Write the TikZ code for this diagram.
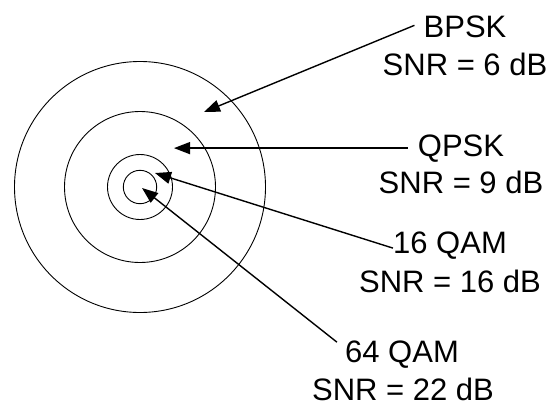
\documentclass[tikz,border=0pt]{standalone}
\usepackage{fontspec}
\setmainfont{Liberation Sans}
\usetikzlibrary{arrows.meta}

\tikzset{
  ring/.style={line width=0.9pt},
  arr/.style={line width=1.4pt,-{Triangle[length=16pt,width=12pt]}},
  lbl/.style={inner sep=0pt,anchor=base,font=\fontsize{31}{37.5}\selectfont}
}

\begin{document}
\begin{tikzpicture}[x=1pt,y=-1pt]
   \useasboundingbox (0,0) rectangle (549,408);
   % rings
   \coordinate (c) at (140,187);
   \draw[ring] (c) circle(125.5);
   \draw[ring] (c) circle(75.5);
   \draw[ring] (c) circle(32.5);
   \draw[ring] (c) circle(16.7);
   % arrow tips
   \coordinate (tipbpsk)  at (204,112);
   \coordinate (tipqpsk)  at (174,145);
   \coordinate (tipqam16) at (155,173);
   \coordinate (tipqam64) at (142,188);
   % labels
   \node[lbl] (bpsk)     at (465,37)  {BPSK};
   \node[lbl] (bpsksnr)  at (465,75)  {SNR = 6 dB};
   \node[lbl] (qpsk)     at (461,156) {QPSK};
   \node[lbl] (qpsksnr)  at (461,193) {SNR = 9 dB};
   \node[lbl] (qam16)    at (450,253) {16 QAM};
   \node[lbl] (qam16snr) at (450,292) {SNR = 16 dB};
   \node[lbl] (qam64)    at (402,362) {64 QAM};
   \node[lbl] (qam64snr) at (403,400) {SNR = 22 dB};
   % arrows
   \draw[arr] ([xshift=-9,yshift=1]bpsk.west) -- (tipbpsk);
   \draw[arr] ([xshift=-10]qpsk.west) -- (tipqpsk |- qpsk.west);
   \draw[arr] ([xshift=0,yshift=-3]qam16.west) -- (tipqam16);
   \draw[arr] ([xshift=-8,yshift=-2]qam64.north west) -- (tipqam64);
\end{tikzpicture}
\end{document}
